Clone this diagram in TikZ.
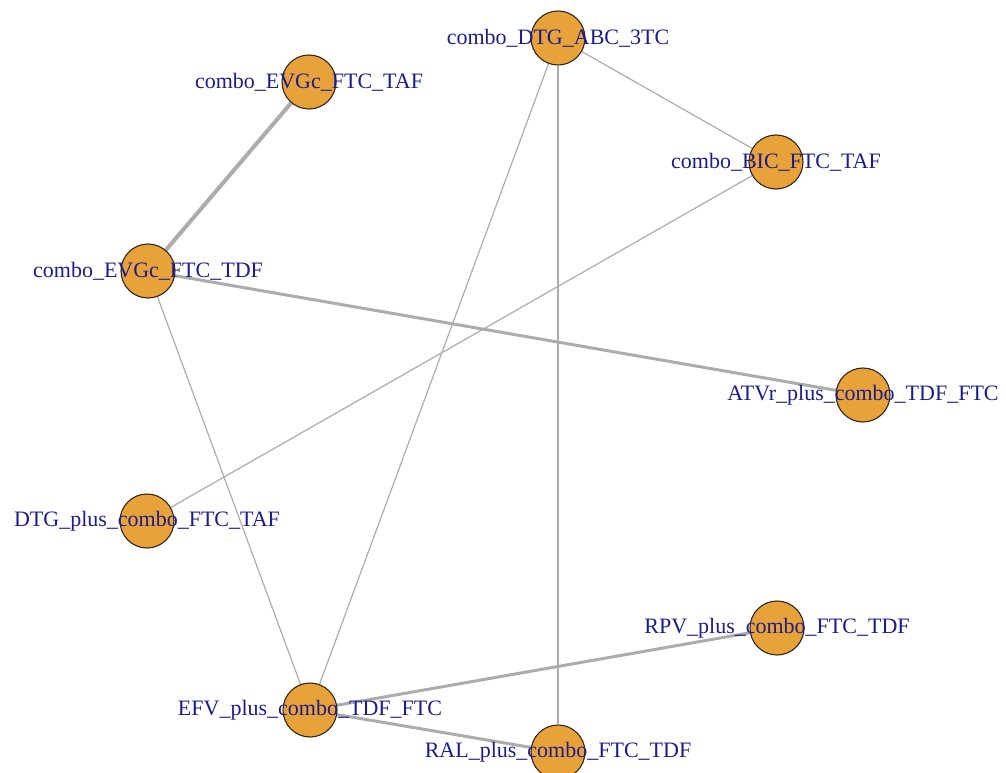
\documentclass[tikz,border=0pt]{standalone}
\usepackage{fontspec}
\setmainfont{Liberation Serif}
\usepackage{xcolor}
\usepackage{tikz}
\usetikzlibrary{shapes,backgrounds}

\definecolor{vfill}{RGB}{232,162,58}
\definecolor{vdraw}{RGB}{50,38,25}
\definecolor{vtext}{RGB}{28,28,140}
\definecolor{edgegray}{RGB}{172,172,172}

\begin{document}
\begin{tikzpicture}[x=1pt, y=-1pt]
    % Define styles
    \tikzstyle{vertex} = [circle, draw=vdraw, fill=vfill, line width=1.1pt, minimum size=54pt, inner sep=0pt]
    \tikzstyle{vname} = [text=vtext, font=\fontsize{22}{24}\selectfont, inner sep=0pt]
    \tikzstyle{line} = [draw=edgegray, line width=1.2pt]
    \tikzstyle{wide} = [draw=edgegray, line width=3pt]
    \tikzstyle{widest} = [draw=edgegray, line width=4pt]

    \useasboundingbox (0,0) rectangle (1006,773);

    % Place nodes
    \node [vertex, label={[vname]center:combo\_DTG\_ABC\_3TC}] (dtgabc) at (558,38) {};
    \node [vertex, label={[vname]center:combo\_EVGc\_FTC\_TAF}] (evgtaf) at (309,82) {};
    \node [vertex, label={[vname]center:combo\_BIC\_FTC\_TAF}] (bic) at (776,162) {};
    \node [vertex, label={[vname]center:combo\_EVGc\_FTC\_TDF}] (evgtdf) at (148,271) {};
    \node [vertex, label={[vname]center:ATVr\_plus\_combo\_TDF\_FTC}] (atv) at (863,395) {};
    \node [vertex, label={[vname]center:DTG\_plus\_combo\_FTC\_TAF}] (dtgplus) at (147,521) {};
    \node [vertex, label={[vname]center:RPV\_plus\_combo\_FTC\_TDF}] (rpv) at (777,628) {};
    \node [vertex, label={[vname]center:EFV\_plus\_combo\_TDF\_FTC}] (efv) at (310,710) {};
    \node [vertex, label={[vname]center:RAL\_plus\_combo\_FTC\_TDF}] (ral) at (558,752) {};

    % Draw edges
    \begin{scope}[on background layer]
    \path [widest] (evgtaf) -- (evgtdf);
    \path [wide] (evgtdf) -- (atv);
    \path [wide] (efv) -- (rpv);
    \path [wide] (efv) -- (ral);
    \path [line] (dtgabc) -- (bic);
    \path [line] (dtgabc) -- (efv);
    \path [line] (dtgabc) -- (ral);
    \path [line] (bic) -- (dtgplus);
    \path [line] (evgtdf) -- (efv);
    \end{scope}
\end{tikzpicture}
\end{document}
